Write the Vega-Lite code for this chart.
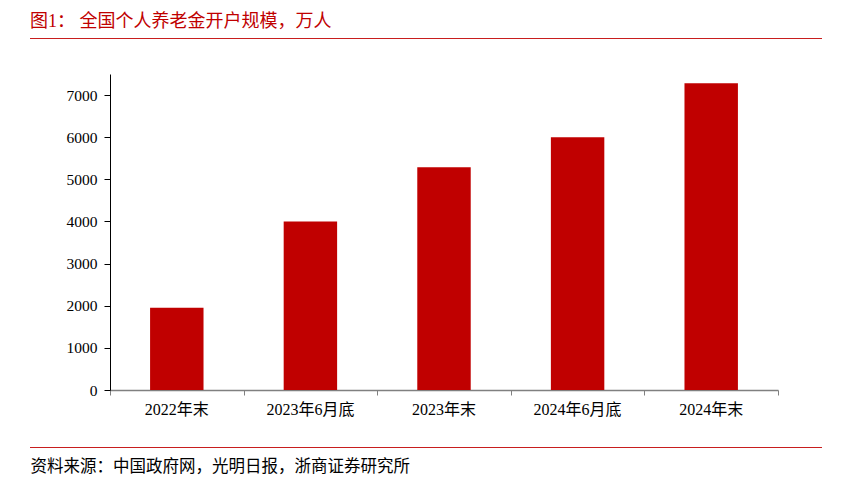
{
  "$schema": "https://vega.github.io/schema/vega-lite/v6.json",
  "width": 668,
  "height": 316,
  "autosize": "none",
  "padding": {"left": 110, "top": 74, "right": 73, "bottom": 98},
  "background": "white",
  "title": {
    "text": "图1：  全国个人养老金开户规模，万人",
    "anchor": "start",
    "frame": "group",
    "dx": -80,
    "offset": 7,
    "fontSize": 18,
    "fontWeight": "normal",
    "color": "#c00000",
    "font": "'Liberation Serif', 'Noto Sans CJK SC', serif"
  },
  "config": {
    "view": {"stroke": null},
    "font": "'Liberation Serif', 'Noto Sans CJK SC', serif"
  },
  "layer": [
    {
      "data": {
        "values": [
          {"period": "2022年末", "accounts": 1954},
          {"period": "2023年6月底", "accounts": 4000},
          {"period": "2023年末", "accounts": 5287},
          {"period": "2024年6月底", "accounts": 6000},
          {"period": "2024年末", "accounts": 7279}
        ]
      },
      "mark": {"type": "bar", "color": "#c00000", "width": {"band": 0.4}},
      "encoding": {
        "x": {
          "field": "period",
          "type": "nominal",
          "sort": null,
          "scale": {"paddingInner": 0, "paddingOuter": 0},
          "axis": {
            "title": "资料来源：中国政府网，光明日报，浙商证券研究所",
            "titleX": -80,
            "titleY": 76,
            "titleAlign": "left",
            "titleBaseline": "middle",
            "titleFontSize": 16.5,
            "titleFontWeight": "normal",
            "titleColor": "#000000",
            "labelAngle": 0,
            "labelFontSize": 16,
            "labelColor": "#000000",
            "labelPadding": 11,
            "ticks": false,
            "domain": false
          }
        },
        "y": {
          "field": "accounts",
          "type": "quantitative",
          "scale": {"domain": [0, 7500], "nice": false},
          "axis": {
            "title": null,
            "values": [0, 1000, 2000, 3000, 4000, 5000, 6000, 7000],
            "format": "d",
            "grid": false,
            "domainColor": "#000000",
            "tickColor": "#000000",
            "tickSize": 6,
            "labelFontSize": 15.5,
            "labelColor": "#000000",
            "labelPadding": 7
          }
        }
      }
    },
    {
      "data": {"values": [{"b": 0}, {"b": 5}]},
      "mark": {"type": "rule", "opacity": 0},
      "encoding": {
        "x": {
          "field": "b",
          "type": "quantitative",
          "scale": {"domain": [0, 5], "nice": false, "zero": false},
          "axis": {
            "orient": "bottom",
            "title": null,
            "values": [0, 1, 2, 3, 4, 5],
            "labels": false,
            "grid": false,
            "tickSize": 5,
            "tickColor": "#808080",
            "domainColor": "#808080",
            "domainWidth": 1.5
          }
        }
      }
    },
    {
      "data": {"values": [{}]},
      "mark": {"type": "rule", "color": "#c81e1e", "strokeWidth": 1},
      "encoding": {"x": {"value": -80}, "x2": {"value": 712}, "y": {"value": -35.5}}
    },
    {
      "data": {"values": [{}]},
      "mark": {"type": "rule", "color": "#c81e1e", "strokeWidth": 1},
      "encoding": {"x": {"value": -80}, "x2": {"value": 712}, "y": {"value": 373.5}}
    }
  ],
  "resolve": {"scale": {"x": "independent"}, "axis": {"x": "independent"}}
}
